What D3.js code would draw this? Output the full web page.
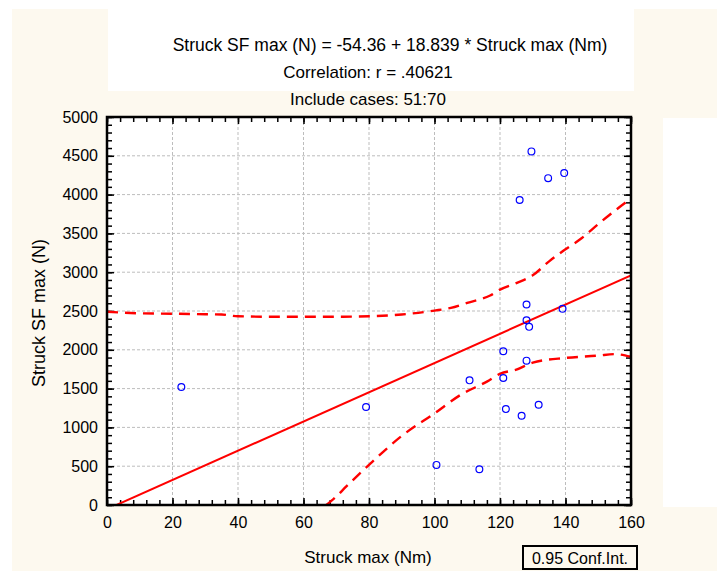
<!DOCTYPE html>
<html>
<head>
<meta charset="utf-8">
<script src="https://d3js.org/d3.v7.min.js"></script>
<style>
  body { margin: 0; background: #fff; }
  text { font-family: "Liberation Sans", Arial, sans-serif; fill: #000; }
</style>
</head>
<body>
<svg id="canvas" width="717" height="577"></svg>
<script>
// values
const titleLines = ["Struck SF max (N) = -54.36 + 18.839 * Struck max (Nm)",
    "Correlation: r = .40621", "Include cases: 51:70"]
const xTicks = [0, 20, 40, 60, 80, 100, 120, 140, 160]
const yTicks = [0, 500, 1000, 1500, 2000, 2500, 3000, 3500, 4000, 4500, 5000]
const intercept = -54.36
const slope = 18.839

const pointX = [22.7, 79.1, 100.6, 110.7, 113.7, 121.0, 121.0, 121.8, 126.6, 126.0,
    129.6, 134.7, 139.6, 128.1, 128.1, 128.9, 128.1, 131.8, 139.1]
const pointY = [1520, 1262, 517, 1606, 461, 1981, 1637, 1236, 1150, 3930,
    4557, 4212, 4277, 2584, 2381, 2296, 1860, 1292, 2528]

const upperX = [0, 10, 20, 30, 35, 40, 50, 60, 70, 80, 90, 100, 105, 110, 117, 120, 125, 130, 135, 140, 145, 150, 155, 160]
const upperY = [2490, 2470, 2465, 2458, 2455, 2432, 2426, 2425, 2426, 2432, 2455, 2505, 2540, 2605, 2700, 2775, 2860, 2960, 3140, 3295, 3440, 3620, 3790, 3950]
const lowerX = [67, 70, 73, 80, 90, 100, 108, 116, 120, 125, 130, 140, 150, 155, 160]
const lowerY = [0, 110, 236, 517, 890, 1180, 1420, 1590, 1690, 1745, 1835, 1895, 1925, 1945, 1910]

const cream = "#fdf9ef"
const lineColor = "#ff0000"
const dotColor = "#0000ff"

var margin = { top: 117, left: 107 },
    width = 631 - margin.left,
    height = 505 - margin.top;

var svg = d3.select("#canvas")

// background panels
svg.append("rect").attr("x", 12).attr("y", 9).attr("width", 705).attr("height", 562).attr("fill", cream)
svg.append("rect").attr("x", 108).attr("y", 0).attr("width", 526).attr("height", 91).attr("fill", "#fff")
svg.append("rect").attr("x", 663).attr("y", 118).attr("width", 54).attr("height", 389).attr("fill", "#fff")

// titles
svg.selectAll(".title")
    .data(titleLines)
    .enter().append("text")
    .attr("class", "title")
    .attr("x", (d, i) => i === 0 ? 390 : 368)
    .attr("y", (d, i) => 51 + i * 27)
    .attr("text-anchor", "middle")
    .attr("font-size", (d, i) => i === 0 ? 17.5 : 17)
    .text(d => d)

var g = svg.append("g")
    .attr("transform", "translate(" + margin.left + "," + margin.top + ")")

var x = d3.scaleLinear().domain([0, 160]).range([0, width])
var y = d3.scaleLinear().domain([0, 5000]).range([height, 0])

g.append("rect").attr("width", width).attr("height", height).attr("fill", "#fff")

// grid
g.append("g")
    .selectAll("line")
    .data(xTicks.slice(1, -1))
    .enter().append("line")
    .attr("x1", d => x(d)).attr("x2", d => x(d))
    .attr("y1", 0).attr("y2", height)
    .attr("stroke", "#bdbdbd").attr("stroke-dasharray", "3,2")
g.append("g")
    .selectAll("line")
    .data(yTicks.slice(1, -1))
    .enter().append("line")
    .attr("y1", d => y(d)).attr("y2", d => y(d))
    .attr("x1", 0).attr("x2", width)
    .attr("stroke", "#bdbdbd").attr("stroke-dasharray", "3,2")

// axes with inward ticks (minor + major)
function styleAxis(sel) {
    sel.select(".domain").remove()
    sel.selectAll("line").attr("stroke", "#000").attr("stroke-width", 1.5)
}
var xMinor = d3.range(0, 161, 4)
var yMinor = d3.range(0, 5001, 100)

;[[xMinor, 5], [xTicks, 7]].forEach(function (t) {
    g.append("g").attr("transform", "translate(0," + height + ")")
        .call(d3.axisTop(x).tickValues(t[0]).tickSize(t[1]).tickFormat(""))
        .call(styleAxis)
    g.append("g")
        .call(d3.axisBottom(x).tickValues(t[0]).tickSize(t[1]).tickFormat(""))
        .call(styleAxis)
})
;[[yMinor, 5], [yTicks, 7]].forEach(function (t) {
    g.append("g")
        .call(d3.axisRight(y).tickValues(t[0]).tickSize(t[1]).tickFormat(""))
        .call(styleAxis)
    g.append("g").attr("transform", "translate(" + width + ",0)")
        .call(d3.axisLeft(y).tickValues(t[0]).tickSize(t[1]).tickFormat(""))
        .call(styleAxis)
})

// tick labels
g.append("g").attr("transform", "translate(0," + height + ")")
    .call(d3.axisBottom(x).tickValues(xTicks).tickSize(0).tickPadding(12))
    .call(a => a.select(".domain").remove())
    .selectAll("text").attr("font-size", 16).attr("font-family", null)
g.append("g")
    .call(d3.axisLeft(y).tickValues(yTicks).tickSize(0).tickPadding(9).tickFormat(d3.format("d")))
    .call(a => a.select(".domain").remove())
    .selectAll("text").attr("font-size", 16).attr("font-family", null)

// clip
g.append("clipPath").attr("id", "clip")
    .append("rect").attr("width", width).attr("height", height)
var plot = g.append("g").attr("clip-path", "url(#clip)")

var line = d3.line().curve(d3.curveMonotoneX).x(d => x(d[0])).y(d => y(d[1]))

plot.append("path")
    .datum(upperX.map((v, i) => [v, upperY[i]]))
    .attr("d", line)
    .attr("fill", "none").attr("stroke", lineColor).attr("stroke-width", 2.4)
    .attr("stroke-dasharray", "11,7")
plot.append("path")
    .datum(lowerX.map((v, i) => [v, lowerY[i]]))
    .attr("d", line)
    .attr("fill", "none").attr("stroke", lineColor).attr("stroke-width", 2.4)
    .attr("stroke-dasharray", "11,7")

plot.append("line")
    .attr("x1", x(0)).attr("y1", y(intercept))
    .attr("x2", x(160)).attr("y2", y(intercept + slope * 160))
    .attr("stroke", lineColor).attr("stroke-width", 2)

plot.selectAll("circle")
    .data(pointX)
    .enter().append("circle")
    .attr("cx", d => x(d))
    .attr("cy", (d, i) => y(pointY[i]))
    .attr("r", 3.4)
    .attr("fill", "none").attr("stroke", dotColor).attr("stroke-width", 1.2)

// frame
g.append("rect").attr("width", width).attr("height", height)
    .attr("fill", "none").attr("stroke", "#000").attr("stroke-width", 2.5)

// axis titles
svg.append("text")
    .attr("x", 368).attr("y", 563)
    .attr("text-anchor", "middle").attr("font-size", 17)
    .text("Struck max (Nm)")
svg.append("text")
    .attr("transform", "translate(45,313) rotate(-90)")
    .attr("text-anchor", "middle").attr("font-size", 18)
    .text("Struck SF max (N)")

// legend
svg.append("rect").attr("x", 523).attr("y", 546).attr("width", 114).attr("height", 23)
    .attr("fill", "none").attr("stroke", "#000").attr("stroke-width", 2)
svg.append("text")
    .attr("x", 580).attr("y", 563.5)
    .attr("text-anchor", "middle").attr("font-size", 16)
    .text("0.95 Conf.Int.")
</script>
</body>
</html>
